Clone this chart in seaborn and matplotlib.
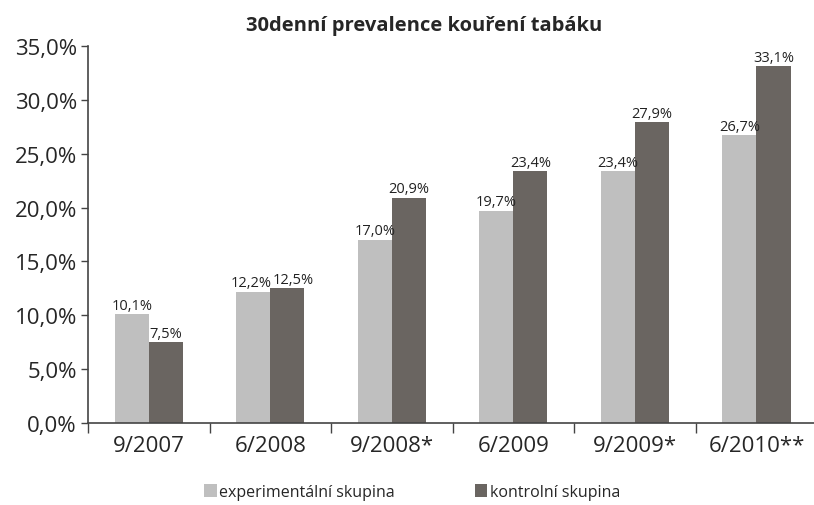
import numpy as np
import pandas as pd
import matplotlib
matplotlib.use("Agg")
import matplotlib.pyplot as plt
import seaborn as sns
from matplotlib.ticker import FixedLocator, FuncFormatter
from matplotlib.patches import Patch

# data
periods = ["9/2007", "6/2008", "9/2008*", "6/2009", "9/2009*", "6/2010**"]
experimental = [10.1, 12.2, 17.0, 19.7, 23.4, 26.7]
control = [7.5, 12.5, 20.9, 23.4, 27.9, 33.1]
groups = ["experimentální skupina", "kontrolní skupina"]
y_ticks = [0, 5, 10, 15, 20, 25, 30, 35]

colors = {"experimentální skupina": "#bfbfbf", "kontrolní skupina": "#6a6561"}

df = pd.DataFrame({
    "period": periods * 2,
    "value": experimental + control,
    "group": [groups[0]] * len(periods) + [groups[1]] * len(periods),
})

sns.set_style("white")
plt.rcParams["font.family"] = ["Open Sans", "DejaVu Sans"]

fig = plt.figure(figsize=(8.14, 5.06), dpi=100)
ax = fig.add_axes([88 / 814, 1 - 424 / 506, 1 - 88 / 814 + 0.004, (424 - 47) / 506])

sns.barplot(data=df, x="period", y="value", hue="group", order=periods,
            hue_order=groups, palette=colors, width=0.56, ax=ax,
            legend=False, saturation=1, linewidth=0)

def pct(v):
    return f"{v:.1f}".replace(".", ",") + "%"

label_sets = []
for container in ax.containers:
    texts = ax.bar_label(container, labels=[pct(b.get_height()) for b in container],
                         padding=1, fontsize=10.5, color="#222222")
    label_sets.append(texts)

# nudge apart labels of neighbouring bars with nearly the same height
for i in range(len(periods)):
    if abs(experimental[i] - control[i]) < 1.5:
        for t, dx in [(label_sets[0][i], -1.5), (label_sets[1][i], 4)]:
            ox, oy = t.xyann
            t.xyann = (ox + dx, oy)

ax.set_ylim(0, 35)
ax.set_xlim(-0.5, len(periods) - 0.5)
ax.yaxis.set_major_locator(FixedLocator(y_ticks))
ax.yaxis.set_major_formatter(FuncFormatter(lambda v, p: pct(v)))
ax.tick_params(axis="y", which="major", left=True, length=5, width=1,
               color="#444444", labelsize=16, pad=3)
ax.tick_params(axis="x", which="major", bottom=False, labelsize=16, pad=5)
ax.set_xticks(np.arange(-0.5, len(periods)), minor=True)
ax.tick_params(axis="x", which="minor", bottom=True, length=7, width=1,
               color="#444444")

for side in ["top", "right"]:
    ax.spines[side].set_visible(False)
for side in ["left", "bottom"]:
    ax.spines[side].set_color("#444444")
    ax.spines[side].set_linewidth(1.2)

ax.set_xlabel("")
ax.set_ylabel("")
fig.text(424 / 814, 1 - 26 / 506, "30denní prevalence kouření tabáku",
         fontsize=14.5, fontweight="bold", ha="center", va="center")

handles = [Patch(facecolor=colors[g], edgecolor="none") for g in groups]
fig.legend(handles, groups, loc="center", bbox_to_anchor=(412 / 814, 1 - 493 / 506),
           ncol=2, frameon=False, fontsize=11.5, handlelength=0.8,
           handleheight=0.8, handletextpad=0.15, columnspacing=5.0)

fig.savefig("out.png", dpi=100)
